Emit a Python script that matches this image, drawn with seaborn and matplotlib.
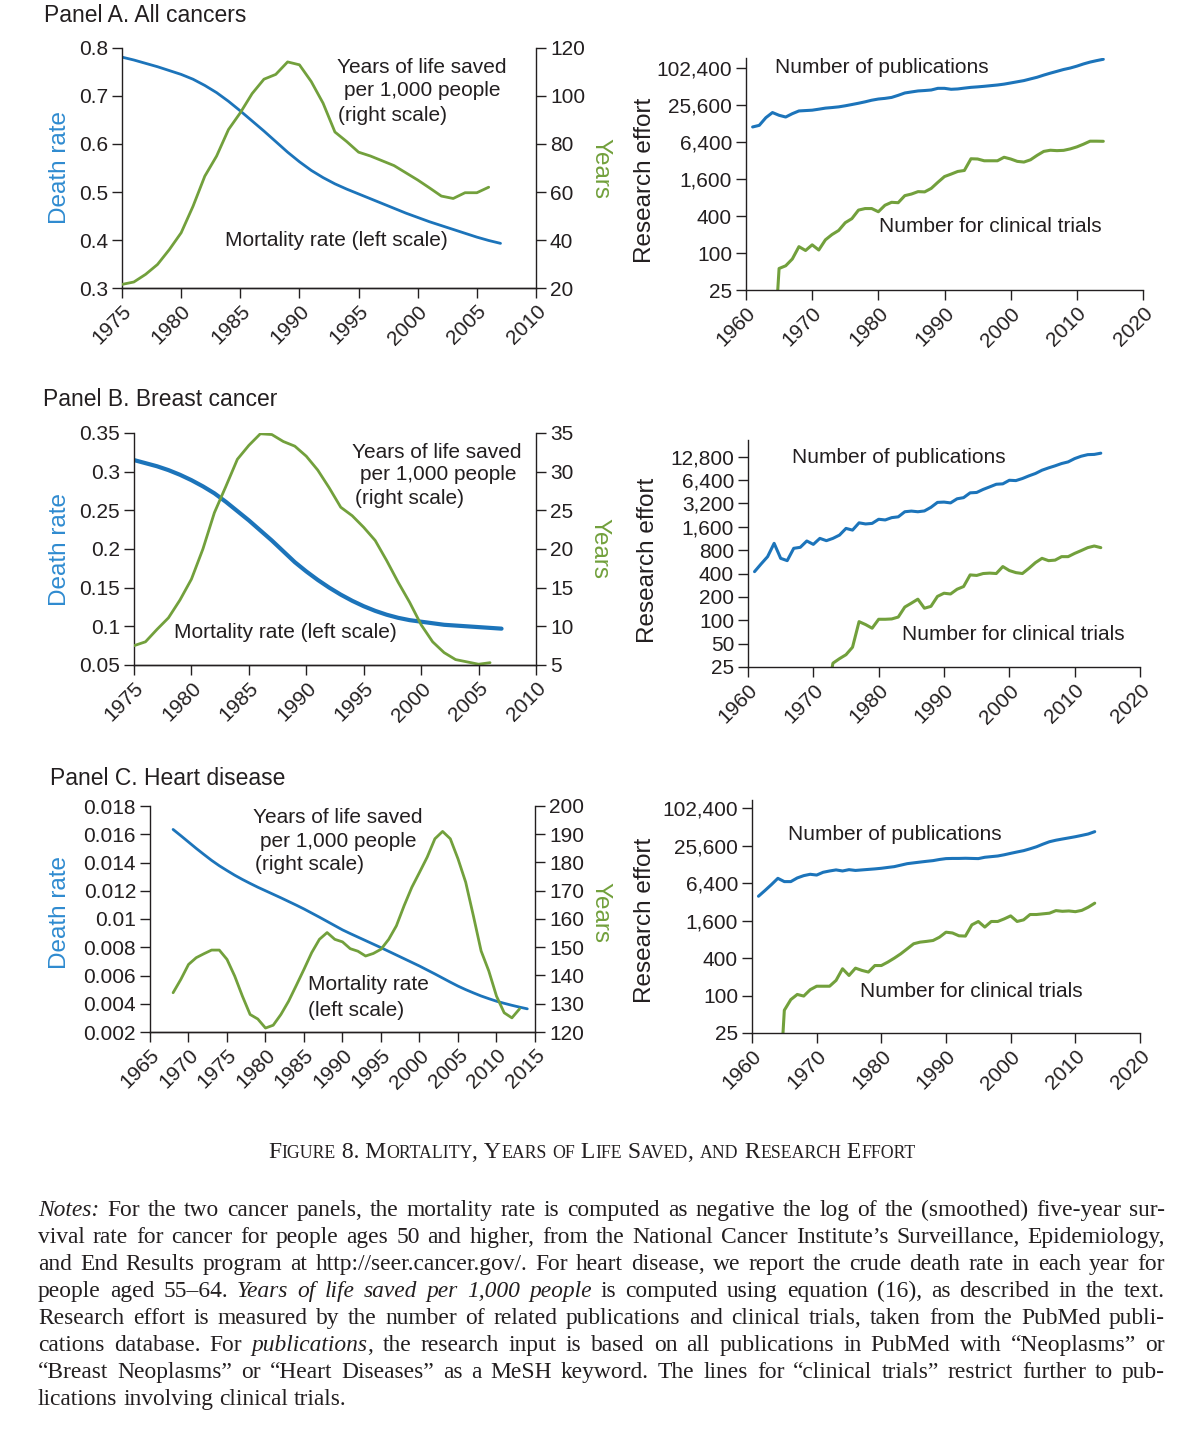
import matplotlib
matplotlib.use("Agg")
import matplotlib.pyplot as plt
import seaborn as sns
import numpy as np
from matplotlib.ticker import FuncFormatter, NullLocator

# Panel A. All cancers
years_a = list(range(1975, 2008))
mort_a = [0.781, 0.775, 0.768, 0.761, 0.753, 0.745, 0.735, 0.722, 0.707, 0.689,
          0.669, 0.648, 0.627, 0.605, 0.583, 0.563, 0.545, 0.530, 0.517, 0.506,
          0.496, 0.486, 0.476, 0.466, 0.456, 0.447, 0.438, 0.430, 0.422, 0.414,
          0.406, 0.399, 0.393]
yls_years_a = list(range(1975, 2007))
yls_a = [21.5, 22.5, 25.7, 29.8, 36, 43, 54, 66.6, 75, 86, 93, 101, 107, 109, 114.2, 113,
         106, 97, 85, 81, 76.6, 75, 73, 71, 68, 65, 61.7, 58.3, 57.3, 59.7, 59.7, 62]
pub_years_a = list(range(1961, 2015))
pubs_a = [11300, 12000, 16000, 19400, 17500, 16400, 18600, 20600, 20900, 21200,
          22000, 22900, 23400, 24000, 25000, 26200, 27500, 29000, 30800, 32200,
          33000, 34200, 37000, 40400, 42000, 43600, 44300, 45200, 48100, 48100,
          46400, 47000, 48500, 49900, 50800, 51900, 53200, 54500, 56300, 58800,
          61500, 64300, 68500, 72900, 79000, 85000, 91000, 97500, 103000, 110500,
          120000, 128700, 136000, 143000]
trial_years_a = list(range(1964, 2015))
trials_a = [1, 56, 62, 80, 127, 110, 136, 112, 164, 200, 233, 312, 363, 500, 530, 530,
            470, 600, 670, 660, 860, 913, 1000, 990, 1130, 1420, 1760, 1930, 2130, 2210,
            3430, 3400, 3180, 3180, 3180, 3630, 3400, 3110, 3030, 3300, 3900, 4520, 4720,
            4650, 4700, 4960, 5350, 5920, 6630, 6630, 6600]

# Panel B. Breast cancer
years_b = list(range(1975, 2008))
mort_b = [0.315, 0.311, 0.307, 0.302, 0.296, 0.289, 0.281, 0.272, 0.261, 0.249,
          0.237, 0.224, 0.211, 0.197, 0.183, 0.171, 0.160, 0.150, 0.141, 0.133,
          0.126, 0.120, 0.115, 0.111, 0.108, 0.106, 0.104, 0.102, 0.101, 0.100,
          0.099, 0.098, 0.097]
yls_years_b = list(range(1975, 2007))
yls_b = [7.5, 8.0, 9.6, 11.1, 13.4, 16.1, 20, 24.7, 28.1, 31.6, 33.4, 34.9, 34.8, 33.9,
         33.3, 32, 30.2, 27.9, 25.4, 24.3, 22.8, 21.1, 18.5, 15.7, 13.1, 10.2, 8, 6.6,
         5.7, 5.4, 5.1, 5.3]
pub_years_b = list(range(1961, 2015))
pubs_b = [423, 531, 660, 980, 628, 586, 845, 870, 1050, 950, 1135, 1060, 1135, 1250,
          1525, 1450, 1800, 1740, 1770, 2000, 1960, 2100, 2150, 2500, 2550, 2500, 2560,
          2850, 3300, 3330, 3250, 3670, 3800, 4380, 4430, 4850, 5230, 5650, 5720, 6360,
          6300, 6700, 7250, 7780, 8570, 9180, 9760, 10450, 10970, 12100, 12980, 13600,
          13700, 14200]
trial_years_b = list(range(1972, 2015))
trials_b = [10, 28, 32, 36, 45, 96, 88, 79, 103, 103, 104, 110, 148, 166, 187, 143, 151,
            203, 223, 218, 251, 272, 384, 378, 400, 405, 400, 492, 437, 411, 400, 467,
            553, 628, 586, 595, 660, 660, 727, 790, 862, 905, 862]

# Panel C. Heart disease
years_c = list(range(1968, 2015))
mort_c = [0.01634, 0.01590, 0.01545, 0.01500, 0.01457, 0.01415, 0.01377, 0.01343,
          0.01310, 0.01280, 0.01252, 0.01225, 0.01200, 0.01175, 0.01150, 0.01124,
          0.01098, 0.01071, 0.01042, 0.01013, 0.00983, 0.00953, 0.00923, 0.00897,
          0.00872, 0.00847, 0.00822, 0.00797, 0.00771, 0.00745, 0.00719, 0.00693,
          0.00667, 0.00639, 0.00611, 0.00582, 0.00553, 0.00525, 0.00500, 0.00477,
          0.00455, 0.00436, 0.00418, 0.00403, 0.00389, 0.00376, 0.00364]
yls_years_c = list(range(1968, 2014))
yls_c = [133.9, 138.6, 143.9, 146.3, 147.7, 149, 149, 145.7, 139.8, 132.7, 126.2, 124.6,
         121.4, 122.4, 126.2, 130.9, 136.5, 142.2, 148.1, 152.8, 155.2, 152.8, 151.9,
         149.5, 148.6, 146.9, 147.8, 149.3, 152.8, 157.6, 164.7, 171.2, 176.5, 181.9,
         188.4, 191, 188.4, 181.3, 173, 161.1, 148.7, 141.6, 132.7, 126.8, 125, 128.2]
pub_years_c = list(range(1961, 2014))
pubs_c = [3930, 4850, 6040, 7620, 6750, 6750, 7730, 8420, 8850, 8600, 9530, 10000,
          10400, 10000, 10500, 10200, 10400, 10600, 10800, 11050, 11400, 11740, 12400,
          13100, 13500, 13900, 14300, 14670, 15300, 15800, 15900, 15900, 16000, 15900,
          15800, 16600, 17000, 17400, 18200, 19200, 20200, 21200, 22700, 24500, 27000,
          29500, 31200, 32600, 34000, 35500, 37300, 39300, 42800]
trial_years_c = list(range(1964, 2014))
trials_c = [1, 58, 86, 104, 98, 124, 141, 141, 141, 175, 269, 210, 275, 253, 238, 303,
            303, 344, 398, 467, 562, 678, 720, 740, 765, 865, 1040, 1010, 910, 900, 1365,
            1545, 1255, 1545, 1545, 1700, 1900, 1545, 1640, 2000, 2000, 2050, 2100, 2310,
            2250, 2280, 2220, 2330, 2620, 3040]

notes_lines = [
    "_Notes:_ For the two cancer panels, the mortality rate is computed as negative the log of the (smoothed) five-year sur-",
    "vival rate for cancer for people ages 50 and higher, from the National Cancer Institute\u2019s Surveillance, Epidemiology,",
    "and End Results program at http://seer.cancer.gov/. For heart disease, we report the crude death rate in each year for",
    "people aged 55\u201364. _Years of life saved per 1,000 people_ is computed using equation (16), as described in the text.",
    "Research effort is measured by the number of related publications and clinical trials, taken from the PubMed publi-",
    "cations database. For _publications_, the research input is based on all publications in PubMed with \u201cNeoplasms\u201d or",
    "\u201cBreast Neoplasms\u201d or \u201cHeart Diseases\u201d as a MeSH keyword. The lines for \u201cclinical trials\u201d restrict further to pub-",
    "lications involving clinical trials.",
]

BLUE = "#1C74BA"
GREEN = "#72A03C"
LABEL_BLUE = "#2F8BD0"
INK = "#231F20"
W, H = 1204, 1435

sns.set_theme(style="ticks")
plt.rcParams["font.family"] = ["Liberation Sans", "DejaVu Sans"]

fig = plt.figure(figsize=(W / 100, H / 100), dpi=100)


def px_axes(x0, x1, y0, y1):
    return fig.add_axes([x0 / W, 1 - y1 / H, (x1 - x0) / W, (y1 - y0) / H])


def fig_text(x, y, s, **kw):
    return fig.text(x / W, 1 - y / H, s, **kw)


def style_axis(ax):
    ax.tick_params(direction="out", length=7, width=1, colors=INK, labelsize=15, pad=3)
    for s in ax.spines.values():
        s.set_color(INK)
        s.set_linewidth(1)
    ax.spines["top"].set_visible(False)
    ax.grid(False)


def set_years(ax, ticks):
    ax.set_xlim(ticks[0], ticks[-1])
    ax.set_xticks(ticks)
    ax.set_xticklabels([str(t) for t in ticks], rotation=45, ha="right", rotation_mode="anchor")


def left_panel(box, yrs, mort, blue_lw, yrs2, yls, xticks, lticks, rticks, notes, lab_x, lab_y, yrs_lab_x):
    ax = px_axes(*box)
    ax2 = ax.twinx()
    sns.lineplot(x=yrs, y=mort, ax=ax, color=BLUE, linewidth=blue_lw)
    sns.lineplot(x=yrs2, y=yls, ax=ax2, color=GREEN, linewidth=2.0)
    for a in (ax, ax2):
        style_axis(a)
        a.set_xlabel("")
        a.set_ylabel("")
    ax.spines["right"].set_visible(False)
    ax2.spines["left"].set_visible(False)
    set_years(ax, xticks)
    ax.set_ylim(lticks[0], lticks[-1])
    ax.set_yticks(lticks)
    ax.yaxis.set_major_formatter(FuncFormatter(lambda v, p: f"{round(v, 4):g}"))
    ax2.set_ylim(rticks[0], rticks[-1])
    ax2.set_yticks(rticks)
    ax.text(lab_x, lab_y, "Death rate", transform=ax.transAxes, rotation=90,
            ha="center", va="center", fontsize=17.5, color=LABEL_BLUE)
    ax.text(yrs_lab_x, lab_y, "Years", transform=ax.transAxes, rotation=270,
            ha="center", va="center", fontsize=17.5, color=GREEN)
    for (x, y, s, ha) in notes:
        ax.text(x, y, s, transform=ax.transAxes, ha=ha, va="center", fontsize=15, color=INK)
    return ax


def right_panel(box, ytop, yticks, p_yrs, pubs, t_yrs, trials, notes, lab_x, lab_y):
    ax = px_axes(*box)
    sns.lineplot(x=p_yrs, y=pubs, ax=ax, color=BLUE, linewidth=2.2)
    sns.lineplot(x=t_yrs, y=trials, ax=ax, color=GREEN, linewidth=2.2)
    style_axis(ax)
    ax.spines["right"].set_visible(False)
    ax.set_xlabel("")
    ax.set_ylabel("")
    ax.set_yscale("log", base=2)
    ax.set_ylim(25, ytop)
    ax.set_yticks(yticks)
    ax.yaxis.set_minor_locator(NullLocator())
    ax.yaxis.set_major_formatter(FuncFormatter(lambda v, p: f"{int(round(v)):,}"))
    set_years(ax, list(range(1960, 2021, 10)))
    ax.text(lab_x, lab_y, "Research effort", transform=ax.transAxes, rotation=90,
            ha="center", va="center", fontsize=17.5, color=INK)
    for (x, y, s) in notes:
        ax.text(x, y, s, transform=ax.transAxes, ha="left", va="center", fontsize=15, color=INK)
    return ax


# Panel A
fig_text(44, 16, "Panel A. All cancers", fontsize=16.5, color=INK, va="center")
left_panel((122, 536, 48, 288), years_a, mort_a, 2.0, yls_years_a, yls_a,
           list(range(1975, 2011, 5)), [0.3, 0.4, 0.5, 0.6, 0.7, 0.8],
           list(range(20, 121, 20)),
           [(0.725, 0.917, "Years of life saved", "center"),
            (0.725, 0.821, "per 1,000 people", "center"),
            (0.522, 0.717, "(right scale)", "left"),
            (0.519, 0.196, "Mortality rate (left scale)", "center")],
           -0.15, 0.5, 1.155)
right_panel((746, 1143, 58, 290), 150000, [25, 100, 400, 1600, 6400, 25600, 102400],
            pub_years_a, pubs_a, trial_years_a, trials_a,
            [(0.073, 0.961, "Number of publications"),
             (0.335, 0.272, "Number for clinical trials")],
            -0.254, 0.474)

# Panel B
fig_text(43, 400, "Panel B. Breast cancer", fontsize=16.5, color=INK, va="center")
left_panel((134, 536, 433, 665), years_b, mort_b, 3.0, yls_years_b, yls_b,
           list(range(1975, 2011, 5)), [0.05, 0.1, 0.15, 0.2, 0.25, 0.3, 0.35],
           list(range(5, 36, 5)),
           [(0.754, 0.918, "Years of life saved", "center"),
            (0.757, 0.823, "per 1,000 people", "center"),
            (0.55, 0.716, "(right scale)", "left"),
            (0.376, 0.142, "Mortality rate (left scale)", "center")],
           -0.184, 0.5, 1.159)
right_panel((748, 1140, 440, 667), 21000,
            [25, 50, 100, 200, 400, 800, 1600, 3200, 6400, 12800],
            pub_years_b, pubs_b, trial_years_b, trials_b,
            [(0.112, 0.925, "Number of publications"),
             (0.393, 0.141, "Number for clinical trials")],
            -0.255, 0.47)

# Panel C
fig_text(50, 779, "Panel C. Heart disease", fontsize=16.5, color=INK, va="center")
left_panel((150, 535, 806, 1032), years_c, mort_c, 2.0, yls_years_c, yls_c,
           list(range(1965, 2016, 5)),
           [0.002, 0.004, 0.006, 0.008, 0.01, 0.012, 0.014, 0.016, 0.018],
           list(range(120, 201, 10)),
           [(0.488, 0.951, "Years of life saved", "center"),
            (0.488, 0.845, "per 1,000 people", "center"),
            (0.273, 0.739, "(right scale)", "left"),
            (0.41, 0.208, "Mortality rate", "left"),
            (0.41, 0.093, "(left scale)", "left")],
           -0.234, 0.53, 1.169)
right_panel((752, 1140, 800, 1033), 138000, [25, 100, 400, 1600, 6400, 25600, 102400],
            pub_years_c, pubs_c, trial_years_c, trials_c,
            [(0.093, 0.854, "Number of publications"),
             (0.278, 0.176, "Number for clinical trials")],
            -0.276, 0.485)

renderer = fig.canvas.get_renderer()

# Caption in small caps
caption = "Figure 8. Mortality, Years of Life Saved, and Research Effort"
pieces = []
for ch in caption:
    big = not ch.islower()
    if pieces and pieces[-1][1] == big:
        pieces[-1][0] += ch
    else:
        pieces.append([ch, big])
cap_objs = []
for s, big in pieces:
    t = fig_text(0, 1158, s.upper().replace(" ", "\u00a0"), fontsize=17 if big else 12.8,
                 family="Liberation Serif", color=INK, va="baseline")
    cap_objs.append(t)
cap_w = [t.get_window_extent(renderer).width for t in cap_objs]
x = 592 - sum(cap_w) / 2
for t, w in zip(cap_objs, cap_w):
    t.set_x(x / W)
    x += w

# Notes paragraph, justified
NOTE_SIZE = 16.9
probe1 = fig_text(0, 0, "x x", fontsize=NOTE_SIZE, family="Liberation Serif")
probe2 = fig_text(0, 0, "xx", fontsize=NOTE_SIZE, family="Liberation Serif")
space_w = probe1.get_window_extent(renderer).width - probe2.get_window_extent(renderer).width
probe1.remove()
probe2.remove()

italic = False
for i, line in enumerate(notes_lines):
    y = 1216 + i * 27
    words = []
    for w in line.split(" "):
        parts = []
        buf = ""
        for ch in w:
            if ch == "_":
                if buf:
                    parts.append((buf, italic))
                    buf = ""
                italic = not italic
            else:
                buf += ch
        if buf:
            parts.append((buf, italic))
        words.append(parts)
    objs = []
    total = 0
    for parts in words:
        ts = [fig_text(0, y, p, fontsize=NOTE_SIZE, family="Liberation Serif",
                       style="italic" if it else "normal", va="baseline", color=INK)
              for p, it in parts]
        ws = [t.get_window_extent(renderer).width for t in ts]
        objs.append((ts, ws))
        total += sum(ws)
    if i < len(notes_lines) - 1:
        gap = (1165 - 38 - total) / (len(words) - 1)
    else:
        gap = space_w
    x = 38
    for ts, ws in objs:
        for t, w in zip(ts, ws):
            t.set_x(x / W)
            x += w
        x += gap

fig.savefig("out.png", dpi=100, facecolor="white")
